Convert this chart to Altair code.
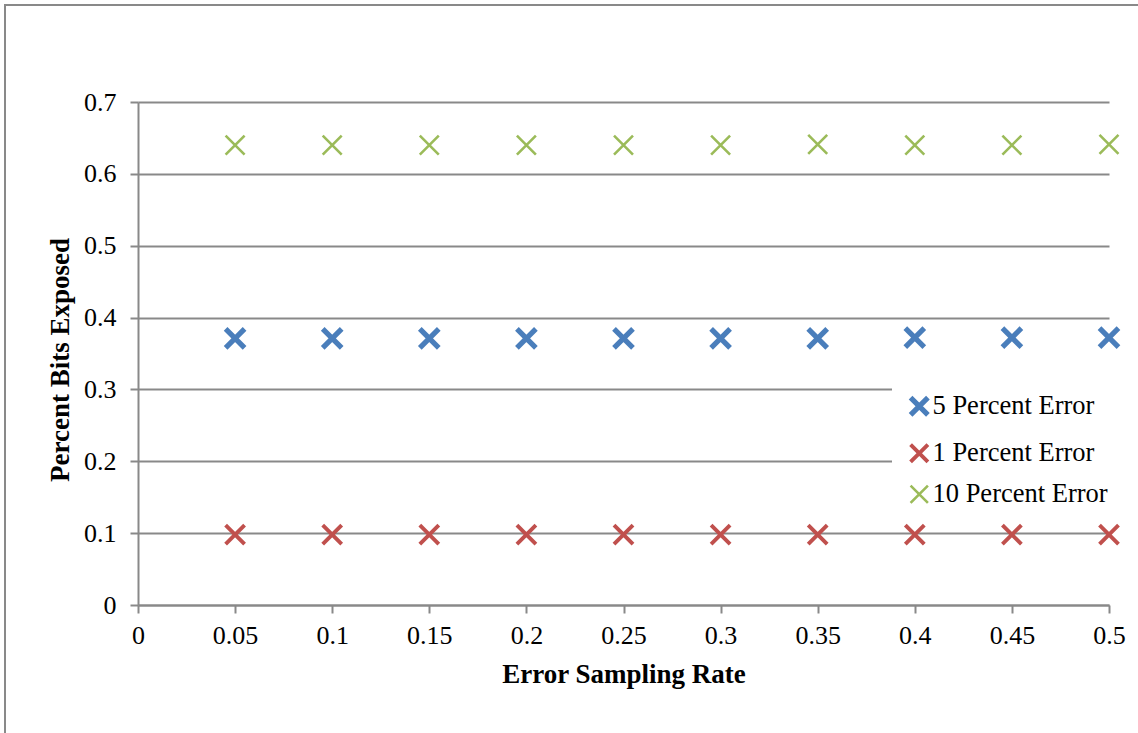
import altair as alt
import pandas as pd

# Error sampling rates on the x axis
sampling_rate = [0.05, 0.10, 0.15, 0.20, 0.25, 0.30, 0.35, 0.40, 0.45, 0.50]

# Fraction of bits exposed for each error level
exposed_5pct = [0.371, 0.371, 0.371, 0.371, 0.371, 0.371, 0.371, 0.372, 0.372, 0.372]
exposed_1pct = [0.098, 0.098, 0.098, 0.098, 0.098, 0.098, 0.098, 0.098, 0.098, 0.098]
exposed_10pct = [0.640, 0.640, 0.640, 0.640, 0.640, 0.640, 0.641, 0.640, 0.640, 0.641]

series_names = ["5 Percent Error", "1 Percent Error", "10 Percent Error"]
series_colors = ["#4A7EBB", "#C0504D", "#9BBB59"]
series_widths = [5.2, 2.6, 2.2]

x_ticks = [0, 0.05, 0.1, 0.15, 0.2, 0.25, 0.3, 0.35, 0.4, 0.45, 0.5]
y_ticks = [0, 0.1, 0.2, 0.3, 0.4, 0.5, 0.6, 0.7]

rows = []
for name, vals in zip(series_names, [exposed_5pct, exposed_1pct, exposed_10pct]):
    for x, y in zip(sampling_rate, vals):
        rows.append({"rate": x, "exposed": y, "series": name})
df = pd.DataFrame(rows)

X_SHAPE = "M-1,-1L1,1M-1,1L1,-1"
SERIF = "Liberation Serif"
GRAY = "#898989"

W, H = 971, 503
LEFT, TOP = 138, 102

legend = alt.Legend(
    title=None,
    orient="none",
    legendX=754,
    legendY=277,
    fillColor="white",
    padding=14,
    labelFont=SERIF,
    labelFontSize=26.5,
    labelColor="black",
    labelLimit=400,
    labelOffset=0,
    rowPadding=10,
    symbolType=X_SHAPE,
    symbolSize=300,
)

points = alt.Chart(df).mark_point(
    shape=X_SHAPE, filled=False, size=360, opacity=1
).encode(
    x=alt.X(
        "rate:Q",
        scale=alt.Scale(domain=[0, 0.5], nice=False, zero=False),
        axis=alt.Axis(
            values=x_ticks,
            format="~g",
            grid=False,
            labelFlush=False,
            tickSize=8,
            tickColor=GRAY,
            tickWidth=2,
            domainColor=GRAY,
            domainWidth=2,
            labelPadding=9,
            title="Error Sampling Rate",
            titleX=W / 2,
            titleY=77,
            titleBaseline="alphabetic",
        ),
    ),
    y=alt.Y(
        "exposed:Q",
        scale=alt.Scale(domain=[0, 0.7], nice=False),
        axis=alt.Axis(
            values=y_ticks,
            format="~g",
            grid=True,
            gridColor=GRAY,
            gridWidth=2,
            tickSize=8,
            tickColor=GRAY,
            tickWidth=2,
            domainColor=GRAY,
            domainWidth=2,
            labelPadding=14,
            title="Percent Bits Exposed",
            titleAngle=-90,
            titleX=-70,
            titleY=H / 2 + 6,
            titleBaseline="alphabetic",
        ),
    ),
    color=alt.Color(
        "series:N",
        scale=alt.Scale(domain=series_names, range=series_colors),
        legend=legend,
    ),
    strokeWidth=alt.StrokeWidth(
        "series:N",
        scale=alt.Scale(domain=series_names, range=series_widths),
        legend=legend,
    ),
)

# Outer chart frame, drawn around the whole figure
frame = alt.Chart(pd.DataFrame({"k": [0]})).mark_rect(
    fill=None, stroke=GRAY, strokeWidth=2
).encode(
    x=alt.value(5 - LEFT),
    y=alt.value(5 - TOP),
    x2=alt.value(1300),
    y2=alt.value(900),
)

chart = alt.layer(frame, points).properties(
    width=W,
    height=H,
    autosize=alt.AutoSizeParams(type="none"),
    padding={"left": LEFT, "top": TOP, "right": 1138 - LEFT - W, "bottom": 733 - TOP - H},
    background="white",
).configure_view(
    stroke=None
).configure_axis(
    labelFont=SERIF,
    labelFontSize=26,
    labelColor="black",
    titleFont=SERIF,
    titleFontSize=27,
    titleFontWeight="bold",
    titleColor="black",
)

chart.save("out.html", embed_options={"renderer": "svg", "actions": False})
